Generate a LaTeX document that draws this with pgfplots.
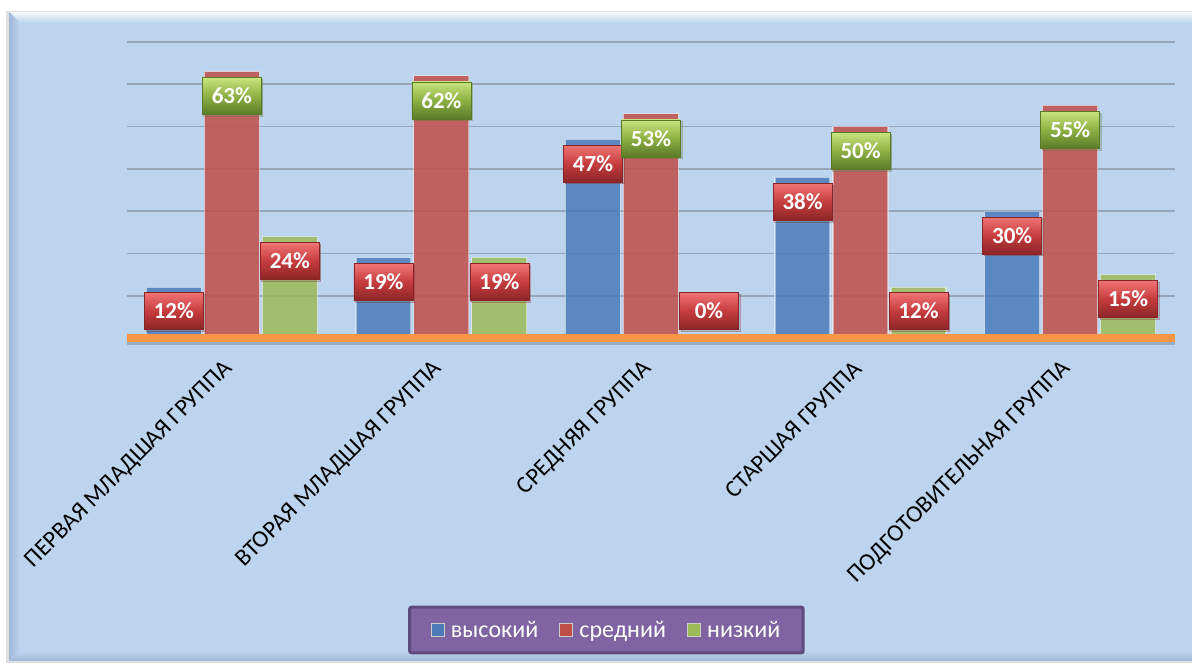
\documentclass[border=0pt]{standalone}
\usepackage{pgfplots}
\pgfplotsset{compat=1.18}
\usepackage{fontspec}
\setmainfont{Carlito}
\usetikzlibrary{shadows}
\definecolor{bgblue}{HTML}{BDD4EE}
\definecolor{bgedge}{HTML}{9FB8D6}
\definecolor{barblue}{HTML}{4A7BB8}
\definecolor{barred}{HTML}{BF4E48}
\definecolor{bargreen}{HTML}{9BBB57}
\definecolor{gridc}{HTML}{97A6B8}
\definecolor{orangeline}{HTML}{F79646}
\definecolor{legfill}{HTML}{8064A2}
\definecolor{legdraw}{HTML}{5F4A7E}
\definecolor{rtop}{HTML}{F07474}
\definecolor{rmid}{HTML}{C63C3E}
\definecolor{rbot}{HTML}{8A2527}
\definecolor{gtop}{HTML}{C8E47E}
\definecolor{gmid}{HTML}{8DB043}
\definecolor{gbot}{HTML}{5A7A28}
\begin{document}
\begin{tikzpicture}
\begin{scope}[x=1pt,y=1pt]
\useasboundingbox (0,0) rectangle (1192,664);
\fill[white] (0,0) rectangle (1192,664);
\fill[black!12] (6,1) rectangle (1192,653);
\fill[bgblue] (9,3) rectangle (1192,652);
\shade[top color=white!85!bgblue, bottom color=bgblue] (9,652) -- (1192,652) -- (1192,641) -- (20,641) -- cycle;
\shade[left color=bgedge, right color=bgblue] (9,3) -- (9,652) -- (20,641) -- (20,14) -- cycle;
\shade[bottom color=bgedge, top color=bgblue] (9,3) -- (1192,3) -- (1192,13) -- (20,13) -- cycle;
\end{scope}
\begin{axis}[
  at={(127pt,326pt)}, anchor=south west,
  scale only axis, width=1048pt, height=296pt,
  xmin=-0.5, xmax=4.5, ymin=0, ymax=70,
  ybar, bar width=0.2624,
  axis line style={draw=none},
  tick style={draw=none},
  major tick length=0pt,
  ytick={10,20,30,40,50,60,70},
  yticklabels={},
  ymajorgrids,
  major grid style={draw=gridc, line width=1.6pt},
  xtick={0,1,2,3,4},
  xticklabels={ПЕРВАЯ МЛАДШАЯ ГРУППА, ВТОРАЯ МЛАДШАЯ ГРУППА, СРЕДНЯЯ ГРУППА, СТАРШАЯ ГРУППА, ПОДГОТОВИТЕЛЬНАЯ ГРУППА},
  xticklabel style={xshift=-3pt, yshift=-27pt, rotate=45, anchor=east, inner sep=0pt, font=\fontsize{24}{24}\selectfont, text=black},
  /pgf/number format/assume math mode=true,
  clip=false,
  point meta=y,
  nodes near coords={\pgfmathprintnumber[fixed,precision=0]{\pgfplotspointmeta}\%},
  visualization depends on={y \as \rawy},
  every node near coord/.append style={font=\fontsize{23}{23}\selectfont\bfseries, text=white, minimum width=59pt, minimum height=37pt, inner sep=0pt, outer sep=0pt, yshift={(max(0,12.2-\rawy)*4.2286-43)*1pt}, drop shadow={shadow xshift=1.5pt, shadow yshift=-1.5pt, opacity=0.35}},
  legend columns=3,
  legend style={at={(0.4575,-0.9865)}, anchor=center, draw=legdraw, line width=3pt, fill=legfill, text=white, font=\fontsize{24}{24}\selectfont, rounded corners=2pt, inner xsep=21pt, inner ysep=12pt, /tikz/every even column/.append style={column sep=19pt}, /tikz/every odd column/.append style={column sep=4pt}},
  legend image code/.code={\draw[#1, fill opacity=1, draw=white!60!gray, draw opacity=1, line width=1.2pt, rounded corners=0pt] (0pt,-6.5pt) rectangle (13pt,6.5pt);},
]
\addplot[fill=barblue, fill opacity=0.85, draw=white, draw opacity=0.45, line width=1.2pt, bar shift=-0.2767,
  every node near coord/.append style={top color=rtop, bottom color=rbot, middle color=rmid, draw=rbot, line width=0.6pt, draw opacity=1, fill opacity=1, text opacity=1}]
  coordinates {(0,12) (1,19) (2,47) (3,38) (4,30)};
\addlegendentry{высокий}
\addplot[fill=barred, fill opacity=0.85, draw=white, draw opacity=0.45, line width=1.2pt, bar shift=0,
  every node near coord/.append style={top color=gtop, bottom color=gbot, middle color=gmid, draw=gbot, line width=0.6pt, draw opacity=1, fill opacity=1, text opacity=1}]
  coordinates {(0,63) (1,62) (2,53) (3,50) (4,55)};
\addlegendentry{средний}
\addplot[fill=bargreen, fill opacity=0.85, draw=white, draw opacity=0.45, line width=1.2pt, bar shift=0.2767,
  every node near coord/.append style={top color=rtop, bottom color=rbot, middle color=rmid, draw=rbot, line width=0.6pt, draw opacity=1, fill opacity=1, text opacity=1}]
  coordinates {(0,24) (1,19) (2,0) (3,12) (4,15)};
\addlegendentry{низкий}
\draw[black, opacity=0.18, line width=4pt] ([yshift=-5pt]axis cs:-0.5,0) -- ([yshift=-5pt]axis cs:4.5,0);
\draw[orangeline, line width=8pt] (axis cs:-0.5,0) -- (axis cs:4.5,0);
\end{axis}
\end{tikzpicture}
\end{document}
